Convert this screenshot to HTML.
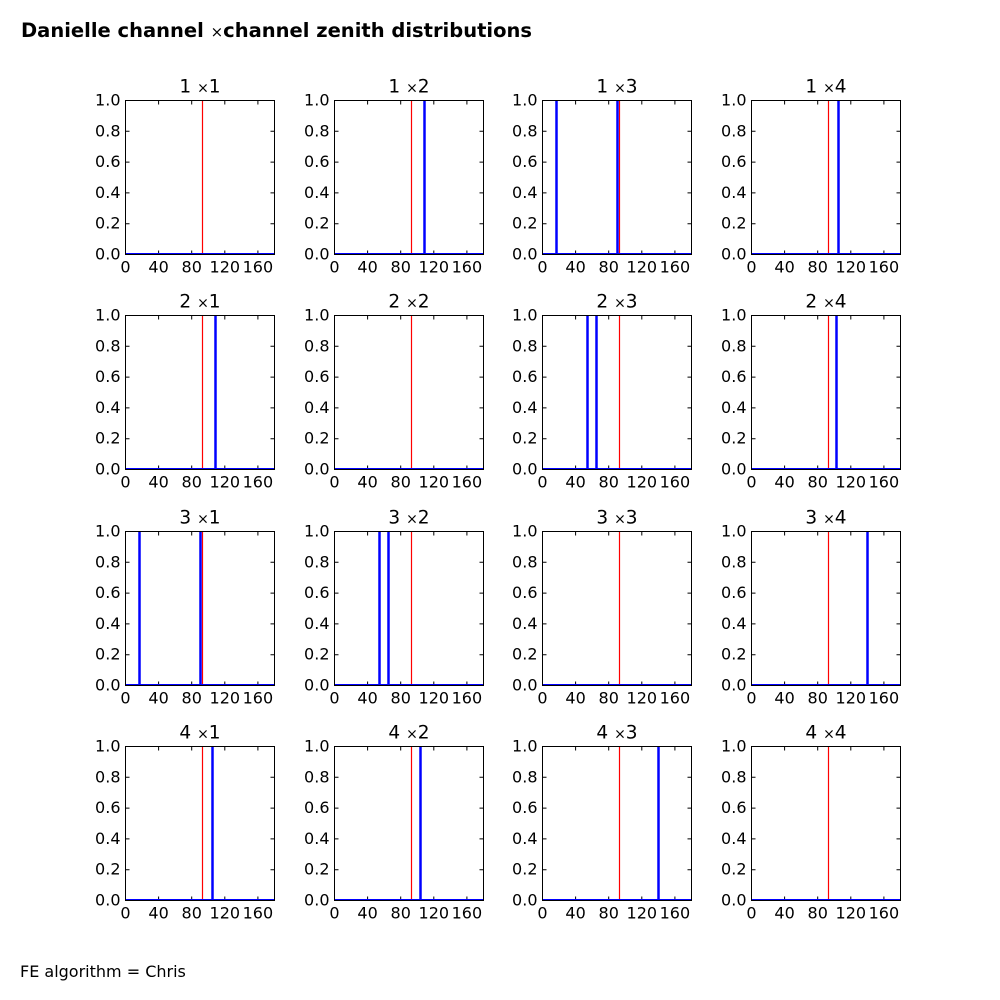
<!DOCTYPE html>
<html><head><meta charset="utf-8"><style>
html,body{margin:0;padding:0;background:#fff}
svg{display:block}
text{font-family:"DejaVu Sans","Liberation Sans",sans-serif;fill:#000}
.tl{font-size:16px}
.tt{font-size:18.5px}
</style></head><body>
<svg width="1000" height="1000" viewBox="0 0 1000 1000" xmlns="http://www.w3.org/2000/svg">
<defs>
<g id="t" stroke="#000" stroke-width="1" fill="none">
<path d="M0 154h4M0 123.2h4M0 92.4h4M0 61.6h4M0 30.8h4M149 154h-4M149 123.2h-4M149 92.4h-4M149 61.6h-4M149 30.8h-4M33.1 154v-4M66.2 154v-4M99.3 154v-4M132.4 154v-4M33.1 0v4M66.2 0v4M99.3 0v4M132.4 0v4"/>
<line x1="0" y1="153" x2="149" y2="153" stroke="#00f" stroke-width="1"/>
<rect x="0" y="0" width="149" height="154"/>
</g>
</defs>
<text x="21" y="37" style="font-size:19.5px;font-weight:bold">Danielle channel <tspan style="font-weight:normal;font-size:15px">×</tspan>channel zenith distributions</text>
<text x="20" y="977" style="font-size:16px">FE algorithm = Chris</text>

<g transform="translate(125.5,100.5)">
<line x1="77" y1="0" x2="77" y2="154" stroke="#f00" stroke-width="1.2"/>
<use href="#t"/>
<g class="tl" text-anchor="end"><text x="-5" y="159">0.0</text><text x="-5" y="128.2">0.2</text><text x="-5" y="97.4">0.4</text><text x="-5" y="66.6">0.6</text><text x="-5" y="35.8">0.8</text><text x="-5" y="5">1.0</text></g>
<g class="tl" text-anchor="middle"><text x="0" y="172">0</text><text x="33.1" y="172">40</text><text x="66.2" y="172">80</text><text x="99.3" y="172">120</text><text x="132.4" y="172">160</text></g>
<text class="tt" x="74.5" y="-8" text-anchor="middle">1  <tspan font-size="14">×</tspan>1</text>
</g>

<g transform="translate(334.5,100.5)">
<line x1="77" y1="0" x2="77" y2="154" stroke="#f00" stroke-width="1.2"/>
<line x1="90" y1="0" x2="90" y2="154" stroke="#00f" stroke-width="2.5"/>
<use href="#t"/>
<g class="tl" text-anchor="end"><text x="-5" y="159">0.0</text><text x="-5" y="128.2">0.2</text><text x="-5" y="97.4">0.4</text><text x="-5" y="66.6">0.6</text><text x="-5" y="35.8">0.8</text><text x="-5" y="5">1.0</text></g>
<g class="tl" text-anchor="middle"><text x="0" y="172">0</text><text x="33.1" y="172">40</text><text x="66.2" y="172">80</text><text x="99.3" y="172">120</text><text x="132.4" y="172">160</text></g>
<text class="tt" x="74.5" y="-8" text-anchor="middle">1  <tspan font-size="14">×</tspan>2</text>
</g>

<g transform="translate(542.5,100.5)">
<line x1="77" y1="0" x2="77" y2="154" stroke="#f00" stroke-width="1.2"/>
<line x1="14" y1="0" x2="14" y2="154" stroke="#00f" stroke-width="2.5"/>
<line x1="75" y1="0" x2="75" y2="154" stroke="#00f" stroke-width="2.5"/>
<use href="#t"/>
<g class="tl" text-anchor="end"><text x="-5" y="159">0.0</text><text x="-5" y="128.2">0.2</text><text x="-5" y="97.4">0.4</text><text x="-5" y="66.6">0.6</text><text x="-5" y="35.8">0.8</text><text x="-5" y="5">1.0</text></g>
<g class="tl" text-anchor="middle"><text x="0" y="172">0</text><text x="33.1" y="172">40</text><text x="66.2" y="172">80</text><text x="99.3" y="172">120</text><text x="132.4" y="172">160</text></g>
<text class="tt" x="74.5" y="-8" text-anchor="middle">1  <tspan font-size="14">×</tspan>3</text>
</g>

<g transform="translate(751.5,100.5)">
<line x1="77" y1="0" x2="77" y2="154" stroke="#f00" stroke-width="1.2"/>
<line x1="87" y1="0" x2="87" y2="154" stroke="#00f" stroke-width="2.5"/>
<use href="#t"/>
<g class="tl" text-anchor="end"><text x="-5" y="159">0.0</text><text x="-5" y="128.2">0.2</text><text x="-5" y="97.4">0.4</text><text x="-5" y="66.6">0.6</text><text x="-5" y="35.8">0.8</text><text x="-5" y="5">1.0</text></g>
<g class="tl" text-anchor="middle"><text x="0" y="172">0</text><text x="33.1" y="172">40</text><text x="66.2" y="172">80</text><text x="99.3" y="172">120</text><text x="132.4" y="172">160</text></g>
<text class="tt" x="74.5" y="-8" text-anchor="middle">1  <tspan font-size="14">×</tspan>4</text>
</g>

<g transform="translate(125.5,315.5)">
<line x1="77" y1="0" x2="77" y2="154" stroke="#f00" stroke-width="1.2"/>
<line x1="90" y1="0" x2="90" y2="154" stroke="#00f" stroke-width="2.5"/>
<use href="#t"/>
<g class="tl" text-anchor="end"><text x="-5" y="159">0.0</text><text x="-5" y="128.2">0.2</text><text x="-5" y="97.4">0.4</text><text x="-5" y="66.6">0.6</text><text x="-5" y="35.8">0.8</text><text x="-5" y="5">1.0</text></g>
<g class="tl" text-anchor="middle"><text x="0" y="172">0</text><text x="33.1" y="172">40</text><text x="66.2" y="172">80</text><text x="99.3" y="172">120</text><text x="132.4" y="172">160</text></g>
<text class="tt" x="74.5" y="-8" text-anchor="middle">2  <tspan font-size="14">×</tspan>1</text>
</g>

<g transform="translate(334.5,315.5)">
<line x1="77" y1="0" x2="77" y2="154" stroke="#f00" stroke-width="1.2"/>
<use href="#t"/>
<g class="tl" text-anchor="end"><text x="-5" y="159">0.0</text><text x="-5" y="128.2">0.2</text><text x="-5" y="97.4">0.4</text><text x="-5" y="66.6">0.6</text><text x="-5" y="35.8">0.8</text><text x="-5" y="5">1.0</text></g>
<g class="tl" text-anchor="middle"><text x="0" y="172">0</text><text x="33.1" y="172">40</text><text x="66.2" y="172">80</text><text x="99.3" y="172">120</text><text x="132.4" y="172">160</text></g>
<text class="tt" x="74.5" y="-8" text-anchor="middle">2  <tspan font-size="14">×</tspan>2</text>
</g>

<g transform="translate(542.5,315.5)">
<line x1="77" y1="0" x2="77" y2="154" stroke="#f00" stroke-width="1.2"/>
<line x1="45" y1="0" x2="45" y2="154" stroke="#00f" stroke-width="2.5"/>
<line x1="54" y1="0" x2="54" y2="154" stroke="#00f" stroke-width="2.5"/>
<use href="#t"/>
<g class="tl" text-anchor="end"><text x="-5" y="159">0.0</text><text x="-5" y="128.2">0.2</text><text x="-5" y="97.4">0.4</text><text x="-5" y="66.6">0.6</text><text x="-5" y="35.8">0.8</text><text x="-5" y="5">1.0</text></g>
<g class="tl" text-anchor="middle"><text x="0" y="172">0</text><text x="33.1" y="172">40</text><text x="66.2" y="172">80</text><text x="99.3" y="172">120</text><text x="132.4" y="172">160</text></g>
<text class="tt" x="74.5" y="-8" text-anchor="middle">2  <tspan font-size="14">×</tspan>3</text>
</g>

<g transform="translate(751.5,315.5)">
<line x1="77" y1="0" x2="77" y2="154" stroke="#f00" stroke-width="1.2"/>
<line x1="85" y1="0" x2="85" y2="154" stroke="#00f" stroke-width="2.5"/>
<use href="#t"/>
<g class="tl" text-anchor="end"><text x="-5" y="159">0.0</text><text x="-5" y="128.2">0.2</text><text x="-5" y="97.4">0.4</text><text x="-5" y="66.6">0.6</text><text x="-5" y="35.8">0.8</text><text x="-5" y="5">1.0</text></g>
<g class="tl" text-anchor="middle"><text x="0" y="172">0</text><text x="33.1" y="172">40</text><text x="66.2" y="172">80</text><text x="99.3" y="172">120</text><text x="132.4" y="172">160</text></g>
<text class="tt" x="74.5" y="-8" text-anchor="middle">2  <tspan font-size="14">×</tspan>4</text>
</g>

<g transform="translate(125.5,531.5)">
<line x1="77" y1="0" x2="77" y2="154" stroke="#f00" stroke-width="1.2"/>
<line x1="14" y1="0" x2="14" y2="154" stroke="#00f" stroke-width="2.5"/>
<line x1="75" y1="0" x2="75" y2="154" stroke="#00f" stroke-width="2.5"/>
<use href="#t"/>
<g class="tl" text-anchor="end"><text x="-5" y="159">0.0</text><text x="-5" y="128.2">0.2</text><text x="-5" y="97.4">0.4</text><text x="-5" y="66.6">0.6</text><text x="-5" y="35.8">0.8</text><text x="-5" y="5">1.0</text></g>
<g class="tl" text-anchor="middle"><text x="0" y="172">0</text><text x="33.1" y="172">40</text><text x="66.2" y="172">80</text><text x="99.3" y="172">120</text><text x="132.4" y="172">160</text></g>
<text class="tt" x="74.5" y="-8" text-anchor="middle">3  <tspan font-size="14">×</tspan>1</text>
</g>

<g transform="translate(334.5,531.5)">
<line x1="77" y1="0" x2="77" y2="154" stroke="#f00" stroke-width="1.2"/>
<line x1="45" y1="0" x2="45" y2="154" stroke="#00f" stroke-width="2.5"/>
<line x1="54" y1="0" x2="54" y2="154" stroke="#00f" stroke-width="2.5"/>
<use href="#t"/>
<g class="tl" text-anchor="end"><text x="-5" y="159">0.0</text><text x="-5" y="128.2">0.2</text><text x="-5" y="97.4">0.4</text><text x="-5" y="66.6">0.6</text><text x="-5" y="35.8">0.8</text><text x="-5" y="5">1.0</text></g>
<g class="tl" text-anchor="middle"><text x="0" y="172">0</text><text x="33.1" y="172">40</text><text x="66.2" y="172">80</text><text x="99.3" y="172">120</text><text x="132.4" y="172">160</text></g>
<text class="tt" x="74.5" y="-8" text-anchor="middle">3  <tspan font-size="14">×</tspan>2</text>
</g>

<g transform="translate(542.5,531.5)">
<line x1="77" y1="0" x2="77" y2="154" stroke="#f00" stroke-width="1.2"/>
<use href="#t"/>
<g class="tl" text-anchor="end"><text x="-5" y="159">0.0</text><text x="-5" y="128.2">0.2</text><text x="-5" y="97.4">0.4</text><text x="-5" y="66.6">0.6</text><text x="-5" y="35.8">0.8</text><text x="-5" y="5">1.0</text></g>
<g class="tl" text-anchor="middle"><text x="0" y="172">0</text><text x="33.1" y="172">40</text><text x="66.2" y="172">80</text><text x="99.3" y="172">120</text><text x="132.4" y="172">160</text></g>
<text class="tt" x="74.5" y="-8" text-anchor="middle">3  <tspan font-size="14">×</tspan>3</text>
</g>

<g transform="translate(751.5,531.5)">
<line x1="77" y1="0" x2="77" y2="154" stroke="#f00" stroke-width="1.2"/>
<line x1="116" y1="0" x2="116" y2="154" stroke="#00f" stroke-width="2.5"/>
<use href="#t"/>
<g class="tl" text-anchor="end"><text x="-5" y="159">0.0</text><text x="-5" y="128.2">0.2</text><text x="-5" y="97.4">0.4</text><text x="-5" y="66.6">0.6</text><text x="-5" y="35.8">0.8</text><text x="-5" y="5">1.0</text></g>
<g class="tl" text-anchor="middle"><text x="0" y="172">0</text><text x="33.1" y="172">40</text><text x="66.2" y="172">80</text><text x="99.3" y="172">120</text><text x="132.4" y="172">160</text></g>
<text class="tt" x="74.5" y="-8" text-anchor="middle">3  <tspan font-size="14">×</tspan>4</text>
</g>

<g transform="translate(125.5,746.5)">
<line x1="77" y1="0" x2="77" y2="154" stroke="#f00" stroke-width="1.2"/>
<line x1="87" y1="0" x2="87" y2="154" stroke="#00f" stroke-width="2.5"/>
<use href="#t"/>
<g class="tl" text-anchor="end"><text x="-5" y="159">0.0</text><text x="-5" y="128.2">0.2</text><text x="-5" y="97.4">0.4</text><text x="-5" y="66.6">0.6</text><text x="-5" y="35.8">0.8</text><text x="-5" y="5">1.0</text></g>
<g class="tl" text-anchor="middle"><text x="0" y="172">0</text><text x="33.1" y="172">40</text><text x="66.2" y="172">80</text><text x="99.3" y="172">120</text><text x="132.4" y="172">160</text></g>
<text class="tt" x="74.5" y="-8" text-anchor="middle">4  <tspan font-size="14">×</tspan>1</text>
</g>

<g transform="translate(334.5,746.5)">
<line x1="77" y1="0" x2="77" y2="154" stroke="#f00" stroke-width="1.2"/>
<line x1="86" y1="0" x2="86" y2="154" stroke="#00f" stroke-width="2.5"/>
<use href="#t"/>
<g class="tl" text-anchor="end"><text x="-5" y="159">0.0</text><text x="-5" y="128.2">0.2</text><text x="-5" y="97.4">0.4</text><text x="-5" y="66.6">0.6</text><text x="-5" y="35.8">0.8</text><text x="-5" y="5">1.0</text></g>
<g class="tl" text-anchor="middle"><text x="0" y="172">0</text><text x="33.1" y="172">40</text><text x="66.2" y="172">80</text><text x="99.3" y="172">120</text><text x="132.4" y="172">160</text></g>
<text class="tt" x="74.5" y="-8" text-anchor="middle">4  <tspan font-size="14">×</tspan>2</text>
</g>

<g transform="translate(542.5,746.5)">
<line x1="77" y1="0" x2="77" y2="154" stroke="#f00" stroke-width="1.2"/>
<line x1="116" y1="0" x2="116" y2="154" stroke="#00f" stroke-width="2.5"/>
<use href="#t"/>
<g class="tl" text-anchor="end"><text x="-5" y="159">0.0</text><text x="-5" y="128.2">0.2</text><text x="-5" y="97.4">0.4</text><text x="-5" y="66.6">0.6</text><text x="-5" y="35.8">0.8</text><text x="-5" y="5">1.0</text></g>
<g class="tl" text-anchor="middle"><text x="0" y="172">0</text><text x="33.1" y="172">40</text><text x="66.2" y="172">80</text><text x="99.3" y="172">120</text><text x="132.4" y="172">160</text></g>
<text class="tt" x="74.5" y="-8" text-anchor="middle">4  <tspan font-size="14">×</tspan>3</text>
</g>

<g transform="translate(751.5,746.5)">
<line x1="77" y1="0" x2="77" y2="154" stroke="#f00" stroke-width="1.2"/>
<use href="#t"/>
<g class="tl" text-anchor="end"><text x="-5" y="159">0.0</text><text x="-5" y="128.2">0.2</text><text x="-5" y="97.4">0.4</text><text x="-5" y="66.6">0.6</text><text x="-5" y="35.8">0.8</text><text x="-5" y="5">1.0</text></g>
<g class="tl" text-anchor="middle"><text x="0" y="172">0</text><text x="33.1" y="172">40</text><text x="66.2" y="172">80</text><text x="99.3" y="172">120</text><text x="132.4" y="172">160</text></g>
<text class="tt" x="74.5" y="-8" text-anchor="middle">4  <tspan font-size="14">×</tspan>4</text>
</g>
</svg>
</body></html>
